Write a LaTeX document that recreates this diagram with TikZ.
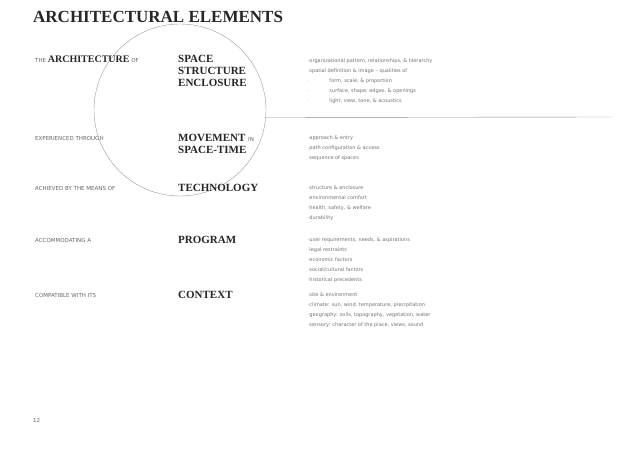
\documentclass[tikz,border=0pt]{standalone}
\usepackage{fontspec}
\setmainfont{Liberation Serif}
\setsansfont{DejaVu Sans}
\begin{document}
\begin{tikzpicture}[x=1pt, y=-1pt, every node/.style={inner sep=0pt, anchor=west},
    head/.style={font=\bfseries\fontsize{11}{12}\selectfont, text=black!85, align=left},
    lead/.style={font=\sffamily\fontsize{5.5}{6}\selectfont, text=black!60},
    note/.style={font=\sffamily\fontsize{5}{10}\selectfont, text=black!55, align=left}]
        \useasboundingbox (0,0) rectangle (638,449);
        % Title
        \node[font=\bfseries\fontsize{17}{18}\selectfont, text=black!85] (title) at (33, 17) {ARCHITECTURAL ELEMENTS};
        
        % Circle and rule
        \node[circle, draw=black!40, minimum size=172pt, anchor=center] (ring) at (180, 110) {};
        \coordinate (rend) at (612, 117);
        \draw[black!45] (ring.-5) -- (rend);
        
        % Left column
        \node[lead] (l1) at (35, 59) {THE \textrm{\bfseries\fontsize{10}{11}\selectfont\color{black!85}ARCHITECTURE} OF};
        \node[lead] (l2) at (35, 138) {EXPERIENCED THROUGH};
        \node[lead] (l3) at (35, 188) {ACHIEVED BY THE MEANS OF};
        \node[lead] (l4) at (35, 240) {ACCOMMODATING A};
        \node[lead] (l5) at (35, 295) {COMPATIBLE WITH ITS};
        \node[lead] (page) at (33, 420) {12};
        
        % Middle column
        \node[head] (h1) at (178, 71) {SPACE\\STRUCTURE\\ENCLOSURE};
        \node[head] (h2) at (178, 144) {MOVEMENT {\sffamily\mdseries\fontsize{5.5}{6}\selectfont\color{black!60}IN}\\SPACE-TIME};
        \node[head] (h3) at (178, 188) {TECHNOLOGY};
        \node[head] (h4) at (178, 240) {PROGRAM};
        \node[head] (h5) at (178, 295) {CONTEXT};
        
        % Right column
        \node[note] (n1) at (307, 81) {$\cdot$organizational pattern, relationships, \& hierarchy\\
            $\cdot$spatial definition \& image -- qualities of\\
            $\cdot$\hspace{20pt}form, scale, \& proportion\\
            $\cdot$\hspace{20pt}surface, shape, edges, \& openings\\
            $\cdot$\hspace{20pt}light, view, tone, \& acoustics};
        \node[note] (n2) at (307, 148) {$\cdot$approach \& entry\\$\cdot$path configuration \& access\\$\cdot$sequence of spaces};
        \node[note] (n3) at (307, 203) {$\cdot$structure \& enclosure\\$\cdot$environmental comfort\\$\cdot$health, safety, \& welfare\\$\cdot$durability};
        \node[note] (n4) at (307, 260) {$\cdot$user requirements, needs, \& aspirations\\$\cdot$legal restraints\\$\cdot$economic factors\\$\cdot$social/cultural factors\\$\cdot$historical precedents};
        \node[note] (n5) at (307, 310) {$\cdot$site \& environment\\$\cdot$climate: sun, wind, temperature, precipitation\\$\cdot$geography: soils, topography, vegetation, water\\$\cdot$sensory: character of the place, views, sound};
    \end{tikzpicture}
\end{document}
